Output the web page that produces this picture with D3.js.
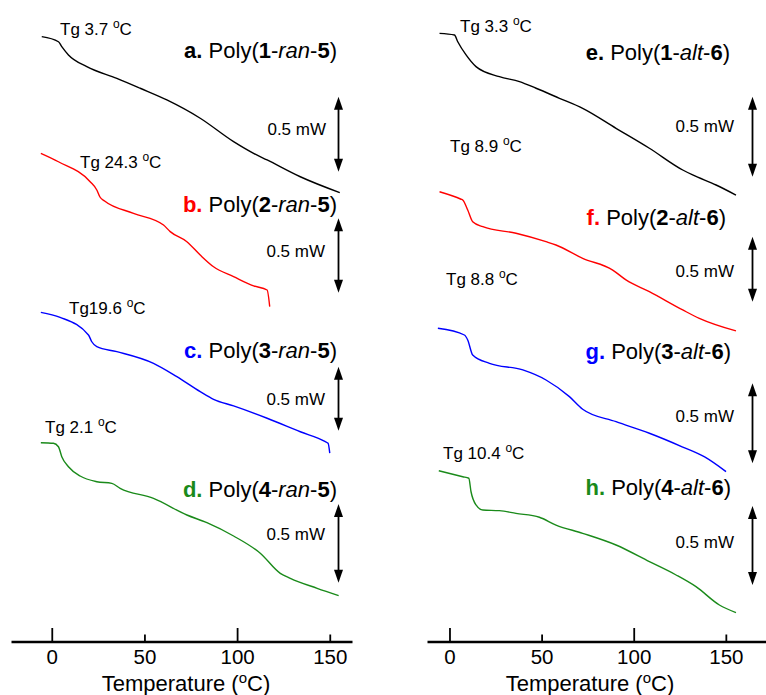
<!DOCTYPE html>
<html>
<head>
<meta charset="utf-8">
<script src="https://cdn.jsdelivr.net/npm/d3@7"></script>
<style>
  html, body { margin: 0; padding: 0; background: #fff; }
  svg { display: block; }
  text { font-family: "Liberation Sans", Arial, sans-serif; }
</style>
</head>
<body>
<svg id="chart" width="766" height="695"></svg>
<script>
// ---------------- data (temperature in °C, heat flow in mW, relative) ----------------
const tempTicks = [0, 50, 100, 150];
const axisTitle = "Temperature";

// left column: random copolymers
const curveA = [[-5.4,0.009],[3.6,-0.025],[5.4,-0.058],[9.0,-0.113],[18.9,-0.191],[35.1,-0.269],[47.7,-0.335],[62.1,-0.413],[80.1,-0.535],[98.1,-0.691],[108.9,-0.769],[116.2,-0.813],[134.1,-0.925],[155.4,-1.031]];
const curveB = [[-5.9,-0.769],[3.6,-0.825],[20.7,-0.958],[24.3,-1.013],[26.0,-1.060],[28.5,-1.087],[44.1,-1.169],[60.3,-1.247],[63.9,-1.291],[72.9,-1.358],[80.1,-1.447],[87.3,-1.525],[98.1,-1.591],[108.9,-1.653],[116.2,-1.680],[117.6,-1.791]];
const curveC = [[-5.9,-1.829],[4.5,-1.862],[19.8,-1.980],[21.6,-2.025],[24.3,-2.058],[35.1,-2.091],[54.9,-2.169],[67.5,-2.258],[80.1,-2.358],[87.3,-2.409],[98.1,-2.453],[116.2,-2.535],[134.1,-2.625],[147.6,-2.691],[149.1,-2.702],[150.0,-2.767]];
const curveD = [[-5.9,-2.698],[0.9,-2.702],[3.6,-2.725],[5.4,-2.791],[9.0,-2.858],[15.3,-2.920],[24.3,-2.958],[32.4,-2.969],[36.9,-3.002],[54.9,-3.069],[72.9,-3.180],[83.7,-3.231],[98.1,-3.320],[112.5,-3.435],[123.3,-3.569],[128.7,-3.602],[143.2,-3.669],[154.8,-3.718]];

// right column: alternating copolymers
const curveE = [[-5.4,0.031],[2.7,0.020],[4.5,-0.025],[9.0,-0.113],[14.4,-0.191],[27.1,-0.258],[38.0,-0.291],[47.0,-0.335],[59.7,-0.402],[72.3,-0.469],[90.4,-0.602],[108.5,-0.735],[126.6,-0.880],[132.0,-0.913],[144.7,-0.980],[155.5,-1.047]];
const curveF = [[-5.4,-1.025],[6.3,-1.075],[7.2,-1.080],[9.9,-1.147],[12.6,-1.225],[18.1,-1.258],[36.1,-1.302],[52.4,-1.358],[57.8,-1.380],[72.3,-1.469],[88.6,-1.547],[95.8,-1.613],[108.5,-1.691],[126.6,-1.813],[135.6,-1.869],[155.5,-1.953]];
const curveG = [[-6.3,-1.935],[8.1,-1.980],[9.9,-2.013],[12.6,-2.113],[21.7,-2.169],[39.8,-2.213],[52.4,-2.280],[65.1,-2.391],[72.3,-2.475],[90.4,-2.558],[108.5,-2.635],[126.6,-2.727],[138.5,-2.793],[150.1,-2.891]];
const curveH = [[-5.8,-2.885],[7.2,-2.925],[10.5,-2.935],[11.7,-3.025],[14.4,-3.113],[18.1,-3.147],[27.1,-3.151],[36.1,-3.169],[48.8,-3.195],[57.8,-3.247],[72.3,-3.302],[90.4,-3.380],[108.5,-3.491],[123.0,-3.580],[133.8,-3.658],[146.5,-3.780],[155.5,-3.831]];

const leftCurves  = [curveA, curveB, curveC, curveD];
const rightCurves = [curveE, curveF, curveG, curveH];

const letters   = ["a.", "b.", "c.", "d.", "e.", "f.", "g.", "h."];
const monomerA  = ["1", "2", "3", "4", "1", "2", "3", "4"];
const linkType  = ["ran", "ran", "ran", "ran", "alt", "alt", "alt", "alt"];
const monomerB  = ["5", "5", "5", "5", "6", "6", "6", "6"];
const tgValues  = ["Tg 3.7 ", "Tg 24.3 ", "Tg19.6 ", "Tg 2.1 ", "Tg 3.3 ", "Tg 8.9 ", "Tg 8.8 ", "Tg 10.4 "];
const scaleBarText = "0.5 mW";
const scaleBarTop    = [-0.391, -1.202, -2.191, -3.107, -0.391, -1.325, -2.302, -3.120];
const scaleBarBottom = [-0.891, -1.698, -2.618, -3.631, -0.925, -1.758, -2.835, -3.647];

// ---------------- styles / layout ----------------
const seriesColors = ["#000000", "#ff0000", "#0000ff", "#1a8a1a"];
const svg = d3.select("#chart");

const xLeft  = d3.scaleLinear().domain([-22, 162]).range([11, 352]);
const xRight = d3.scaleLinear().domain([-12.2, 171.8]).range([427, 766]);
const y = d3.scaleLinear().domain([0, -4]).range([38, 638]);
const axisY = 641.5;

// layout of annotations (pixel positions)
const tgPos = [[60,35],[80,168],[69,314],[45,433],[460,32],[450,152],[446,285],[443,459]];
const labelPos = [[337,58],[337,212],[337,358],[337,497],[730,60],[726,225],[731,359],[731,495]];
const barTextPos = [[326,135],[325,257],[325,405],[325,540],[734,132],[734,277],[734,422],[734,548]];
const barX = [338.5, 338.5, 338.5, 338.5, 752.5, 752.5, 752.5, 752.5];

// ---------------- curves ----------------
function drawCurves(curves, x) {
  const line = d3.line().x(d => x(d[0])).y(d => y(d[1])).curve(d3.curveMonotoneX);
  svg.append("g").selectAll("path").data(curves).join("path")
    .attr("d", line)
    .attr("fill", "none")
    .attr("stroke", (d, i) => seriesColors[i])
    .attr("stroke-width", 1.4)
    .attr("stroke-linejoin", "round");
}
drawCurves(leftCurves, xLeft);
drawCurves(rightCurves, xRight);

// ---------------- axes ----------------
function drawAxis(x, titleX) {
  const g = svg.append("g").attr("transform", `translate(0,${axisY})`)
    .call(d3.axisBottom(x).tickValues(tempTicks).tickSizeOuter(0).tickSizeInner(0).tickPadding(0));
  g.select(".domain").attr("stroke", "#000").attr("stroke-width", 2.6);
  g.selectAll(".tick line").attr("stroke", "#000").attr("stroke-width", 1.8)
    .attr("y1", 0).attr("y2", d => d % 100 === 0 ? -13.5 : -7);
  g.selectAll(".tick text").attr("fill", "#000").attr("font-size", 20.5)
    .attr("font-family", "Liberation Sans, Arial, sans-serif")
    .attr("y", 22).attr("dy", 0);
  const t = svg.append("text").attr("x", titleX).attr("y", 690.5)
    .attr("text-anchor", "middle").attr("font-size", 22).attr("fill", "#000");
  t.append("tspan").text(axisTitle + " (");
  t.append("tspan").attr("font-size", 15).attr("dy", -8).text("o");
  t.append("tspan").attr("dy", 8).text("C)");
}
drawAxis(xLeft, 186);
drawAxis(xRight, 590);

// ---------------- annotations ----------------
for (let i = 0; i < 8; i++) {
  const col = seriesColors[i % 4];
  // Tg label
  const tg = svg.append("text").attr("x", tgPos[i][0]).attr("y", tgPos[i][1])
    .attr("font-size", 17).attr("fill", "#000");
  tg.append("tspan").text(tgValues[i]);
  tg.append("tspan").attr("font-size", 12).attr("dy", -7).text("o");
  tg.append("tspan").attr("dy", 7).text("C");

  // sample label
  const lb = svg.append("text").attr("x", labelPos[i][0]).attr("y", labelPos[i][1])
    .attr("text-anchor", "end").attr("font-size", 22).attr("fill", "#000");
  lb.append("tspan").attr("font-weight", "bold").attr("fill", col).text(letters[i]);
  lb.append("tspan").text(" Poly(");
  lb.append("tspan").attr("font-weight", "bold").text(monomerA[i]);
  lb.append("tspan").text("-");
  lb.append("tspan").attr("font-style", "italic").text(linkType[i]);
  lb.append("tspan").text("-");
  lb.append("tspan").attr("font-weight", "bold").text(monomerB[i]);
  lb.append("tspan").text(")");

  // scale bar
  const bx = barX[i], y1 = y(scaleBarTop[i]), y2 = y(scaleBarBottom[i]);
  const head = 13, hw = 4.5;
  svg.append("line").attr("x1", bx).attr("x2", bx).attr("y1", y1 + head - 1).attr("y2", y2 - head + 1)
    .attr("stroke", "#000").attr("stroke-width", 1.8);
  svg.append("path").attr("d", `M${bx},${y1} L${bx - hw},${y1 + head} L${bx + hw},${y1 + head} Z`).attr("fill", "#000");
  svg.append("path").attr("d", `M${bx},${y2} L${bx - hw},${y2 - head} L${bx + hw},${y2 - head} Z`).attr("fill", "#000");
  svg.append("text").attr("x", barTextPos[i][0]).attr("y", barTextPos[i][1])
    .attr("text-anchor", "end").attr("font-size", 17).attr("fill", "#000").text(scaleBarText);
}
</script>
</body>
</html>
